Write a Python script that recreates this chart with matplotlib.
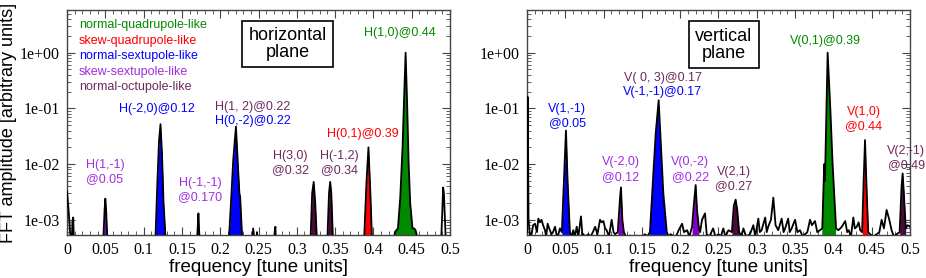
import matplotlib
matplotlib.use("Agg")
import matplotlib.pyplot as plt
import numpy as np
from matplotlib.ticker import FixedLocator, LogLocator, MultipleLocator, NullFormatter

# colours for the resonance families
GREEN = "#008a00"
RED = "#ff0000"
BLUE = "#0000ff"
PURPLE_TXT = "#a02ee0"
PURPLE = "#8000c8"
MAROON_TXT = "#6e2a5c"
MAROON = "#4c0a3c"

X_TICKS = [0, 0.05, 0.1, 0.15, 0.2, 0.25, 0.3, 0.35, 0.4, 0.45, 0.5]
X_TICK_LABELS = ["0", "0.05", "0.1", "0.15", "0.2", "0.25", "0.3", "0.35", "0.4", "0.45", "0.5"]
Y_TICKS = [1e-3, 1e-2, 1e-1, 1e0]
Y_TICK_LABELS = ["1e-03", "1e-02", "1e-01", "1e+00"]
Y_LIM = (5.33e-4, 5.84)

# horizontal plane spectrum (frequency, amplitude)
h_freq = [0.000, 0.002, 0.004, 0.006, 0.007, 0.008, 0.009, 0.011,
          0.046, 0.0475, 0.049, 0.050, 0.051, 0.0525, 0.054,
          0.113, 0.1155, 0.118, 0.120, 0.122, 0.124, 0.126, 0.1285, 0.131,
          0.168, 0.170, 0.1715, 0.1725, 0.174,
          0.209, 0.2115, 0.214, 0.217, 0.2205, 0.223, 0.225, 0.226, 0.2285, 0.231,
          0.241, 0.243, 0.245, 0.247, 0.248, 0.249,
          0.270, 0.271, 0.272, 0.273,
          0.316, 0.318, 0.320, 0.322, 0.324, 0.326,
          0.338, 0.340, 0.342, 0.3435, 0.345, 0.347,
          0.386, 0.388, 0.391, 0.3935, 0.396, 0.398, 0.400,
          0.426, 0.428, 0.430, 0.432, 0.435, 0.438, 0.440, 0.442, 0.444, 0.446,
          0.448, 0.451, 0.453, 0.455, 0.457, 0.459,
          0.488, 0.4895, 0.491, 0.492, 0.494, 0.495, 0.500]
h_amp = [3.2e-3, 1.5e-3, 6e-4, 3e-4, 9e-4, 1.1e-3, 4e-4, 3e-4,
         3e-4, 5e-4, 1.5e-3, 2.4e-3, 1.5e-3, 5e-4, 3e-4,
         3e-4, 5e-4, 5e-3, 2.5e-2, 5.2e-2, 1.5e-2, 2e-3, 5e-4, 3e-4,
         3e-4, 5e-4, 1.3e-3, 6e-4, 3e-4,
         3e-4, 5e-4, 2e-3, 1.2e-2, 4.7e-2, 1e-2, 3e-3, 2.6e-3, 5e-4, 3e-4,
         3e-4, 7e-4, 4e-4, 3e-4, 6e-4, 3e-4,
         3e-4, 6e-4, 7.5e-4, 3e-4,
         3e-4, 5e-4, 3e-3, 4.8e-3, 2e-3, 5e-4,
         3e-4, 5e-4, 3e-3, 4.8e-3, 3e-3, 5e-4,
         3e-4, 5e-4, 5e-3, 2e-2, 3e-3, 5e-4, 3e-4,
         3e-4, 6e-4, 6.5e-4, 7e-4, 2.5e-3, 2e-2, 1.5e-1, 1.0, 1.2e-1, 1e-2,
         2e-3, 7e-4, 7e-4, 6.5e-4, 5e-4, 3e-4,
         3e-4, 1e-3, 3.8e-3, 3e-3, 6e-4, 3e-4, 3e-4]

# vertical plane spectrum (frequency, amplitude)
v_freq = [0.000, 0.001, 0.002, 0.004, 0.006, 0.008, 0.0105, 0.013, 0.0148, 0.017,
          0.019, 0.021, 0.0235, 0.025, 0.027, 0.029, 0.032, 0.034, 0.0366, 0.039,
          0.041, 0.043, 0.0455, 0.048, 0.0509, 0.053, 0.056, 0.058, 0.0605, 0.0625,
          0.0649, 0.067, 0.0705, 0.0725, 0.0735, 0.076, 0.080, 0.083, 0.086, 0.089,
          0.092, 0.0953, 0.0975, 0.0997, 0.102, 0.104, 0.107, 0.1105, 0.113, 0.115,
          0.1185, 0.1215, 0.1227, 0.1245, 0.1265, 0.129, 0.1345, 0.139, 0.143, 0.148,
          0.154, 0.157, 0.1605, 0.164, 0.168, 0.1719, 0.175, 0.178, 0.1825, 0.185,
          0.1876, 0.192, 0.195, 0.198, 0.2025, 0.205, 0.209, 0.212, 0.2155, 0.218,
          0.2202, 0.222, 0.2245, 0.226, 0.2285, 0.2324, 0.2346, 0.238, 0.243, 0.246,
          0.250, 0.253, 0.2563, 0.259, 0.263, 0.2675, 0.270, 0.2724, 0.2745, 0.277,
          0.280, 0.2825, 0.286, 0.2911, 0.2955, 0.298, 0.302, 0.304, 0.3063, 0.311,
          0.313, 0.315, 0.3185, 0.3216, 0.3245, 0.328, 0.3325, 0.335, 0.337, 0.341,
          0.343, 0.3455, 0.350, 0.353, 0.3564, 0.360, 0.363, 0.366, 0.3695, 0.372,
          0.376, 0.379, 0.3825, 0.3855, 0.388, 0.389, 0.3925, 0.396, 0.399, 0.4035,
          0.4065, 0.409, 0.411, 0.4155, 0.418, 0.420, 0.423, 0.426, 0.428, 0.4305,
          0.433, 0.435, 0.4375, 0.4395, 0.4413, 0.443, 0.4455, 0.448, 0.452, 0.4565,
          0.460, 0.463, 0.466, 0.4695, 0.473, 0.476, 0.479, 0.4825, 0.4865, 0.489,
          0.4904, 0.492, 0.4945, 0.497, 0.500]
v_amp = [6e-4, 1.6e-1, 1e-3, 5e-4, 5.5e-4, 8e-4, 8.5e-4, 6e-4, 1.05e-3, 9e-4,
         1e-3, 8e-4, 6.5e-4, 5e-4, 8.5e-4, 7e-4, 5.5e-4, 6e-4, 7.5e-4, 5e-4,
         5.5e-4, 7e-4, 6e-4, 4e-3, 4e-2, 5e-3, 6e-4, 5e-4, 6.5e-4, 5e-4,
         7.5e-4, 5e-4, 1.15e-3, 5e-4, 5.5e-4, 5e-4, 5.5e-4, 5e-4, 6e-4, 7.5e-4,
         5.5e-4, 1e-3, 9e-4, 9.5e-4, 7e-4, 6.5e-4, 5e-4, 1e-3, 6e-4, 5.5e-4,
         6e-4, 2.5e-3, 3.8e-3, 1e-3, 6e-4, 5e-4, 5.2e-4, 4.5e-4, 5.2e-4, 4.5e-4,
         5.5e-4, 5e-4, 6e-4, 4e-3, 3.5e-2, 1.4e-1, 2e-2, 3e-3, 6e-4, 5e-4,
         5.5e-4, 5e-4, 5.2e-4, 6.5e-4, 8.5e-4, 6e-4, 6.5e-4, 5e-4, 7.5e-4, 2e-3,
         4.2e-3, 1.5e-3, 7e-4, 6e-4, 1e-3, 1.3e-3, 5.5e-4, 5e-4, 7e-4, 5e-4,
         5.5e-4, 5e-4, 7e-4, 5e-4, 6.5e-4, 6e-4, 1.8e-3, 2.3e-3, 1.5e-3, 6e-4,
         5e-4, 7e-4, 5e-4, 5.5e-4, 8e-4, 5e-4, 1.05e-3, 6e-4, 6.5e-4, 1.1e-3,
         6e-4, 7.6e-4, 1e-3, 2.5e-3, 8e-4, 6.5e-4, 1.05e-3, 6e-4, 7e-4, 1.05e-3,
         6e-4, 7e-4, 1e-3, 6e-4, 6.5e-4, 5e-4, 5.5e-4, 6e-4, 1e-3, 8e-4,
         9.5e-4, 6e-4, 6.5e-4, 7e-4, 1e-2, 5e-3, 1.0, 1e-1, 1e-2, 7e-4,
         6.5e-4, 7e-4, 7.5e-4, 9.5e-4, 6e-4, 6.5e-4, 5e-4, 1.1e-3, 7e-4, 7.5e-4,
         9e-4, 6.5e-4, 6e-4, 5e-3, 2.7e-2, 5e-3, 6e-4, 5.5e-4, 5e-4, 5.5e-4,
         6e-4, 1e-3, 7e-4, 1.5e-3, 1e-3, 6.5e-4, 5e-4, 5.5e-4, 6e-4, 4e-3,
         6.8e-3, 3e-3, 7e-4, 8e-4, 7.5e-4]

# coloured peaks: (f_min, f_max, colour)
h_peaks = [(0.045, 0.055, PURPLE), (0.112, 0.132, BLUE), (0.168, 0.175, PURPLE),
           (0.208, 0.232, BLUE), (0.315, 0.327, MAROON), (0.337, 0.348, MAROON),
           (0.385, 0.401, RED), (0.425, 0.460, GREEN)]
v_peaks = [(0.045, 0.057, BLUE), (0.118, 0.127, PURPLE), (0.160, 0.183, BLUE),
           (0.215, 0.2245, PURPLE), (0.267, 0.278, MAROON), (0.385, 0.404, GREEN),
           (0.437, 0.446, RED), (0.486, 0.495, MAROON)]

# legend-like family names (top left of horizontal plane)
families = ["normal-quadrupole-like", "skew-quadrupole-like", "normal-sextupole-like",
            "skew-sextupole-like", "normal-octupole-like"]
family_colors = [GREEN, RED, BLUE, PURPLE_TXT, MAROON_TXT]

# peak labels: (text, x, y, colour) in axes fractions
h_labels = [
    ("H(1,0)@0.44", 0.869, 0.896, GREEN),
    ("H(-2,0)@0.12", 0.234, 0.559, BLUE),
    ("H(1, 2)@0.22", 0.484, 0.568, MAROON_TXT),
    ("H(0,-2)@0.22", 0.484, 0.508, BLUE),
    ("H(0,1)@0.39", 0.772, 0.449, RED),
    ("H(3,0)\n@0.32", 0.584, 0.318, MAROON_TXT),
    ("H(-1,2)\n@0.34", 0.711, 0.318, MAROON_TXT),
    ("H(1,-1)\n@0.05", 0.099, 0.280, PURPLE_TXT),
    ("H(-1,-1)\n@0.170", 0.347, 0.198, PURPLE_TXT),
]
v_labels = [
    ("V(0,1)@0.39", 0.778, 0.864, GREEN),
    ("V( 0, 3)@0.17", 0.354, 0.696, MAROON_TXT),
    ("V(-1,-1)@0.17", 0.354, 0.637, BLUE),
    ("V(1,-1)\n@0.05", 0.105, 0.530, BLUE),
    ("V(1,0)\n@0.44", 0.880, 0.514, RED),
    ("V(2,-1)\n@0.49", 0.990, 0.342, MAROON_TXT),
    ("V(-2,0)\n@0.12", 0.245, 0.291, PURPLE_TXT),
    ("V(0,-2)\n@0.22", 0.426, 0.291, PURPLE_TXT),
    ("V(2,1)\n@0.27", 0.540, 0.248, MAROON_TXT),
]

SANS = "Liberation Sans"
SERIF = "Liberation Serif"


def draw_spectrum(ax, freq, amp, peaks):
    freq = np.asarray(freq)
    amp = np.asarray(amp)
    floor = np.full_like(amp, 1e-6)
    for lo, hi, color in peaks:
        mask = (freq >= lo) & (freq <= hi)
        ax.fill_between(freq, floor, amp, where=mask, color=color, linewidth=0, zorder=2)
    ax.plot(freq, amp, color="black", linewidth=1.3, zorder=3)


def style_axes(ax):
    ax.set_yscale("log")
    ax.set_xlim(0, 0.5)
    ax.set_ylim(*Y_LIM)
    ax.xaxis.set_major_locator(FixedLocator(X_TICKS))
    ax.set_xticklabels(X_TICK_LABELS, fontfamily=SERIF)
    ax.xaxis.set_minor_locator(MultipleLocator(0.01))
    ax.yaxis.set_major_locator(FixedLocator(Y_TICKS))
    ax.set_yticklabels(Y_TICK_LABELS, fontfamily=SERIF)
    ax.yaxis.set_minor_locator(LogLocator(base=10, subs=np.arange(2, 10)))
    ax.yaxis.set_minor_formatter(NullFormatter())
    ax.tick_params(which="both", direction="in", top=True, right=True,
                   labelsize=11.5, pad=5, color="#444444", labelfontfamily=SERIF)
    ax.tick_params(which="major", length=6, width=0.8)
    ax.tick_params(which="minor", length=3, width=0.6)
    for spine in ax.spines.values():
        spine.set_linewidth(1.0)
        spine.set_color("#444444")
    ax.set_xlabel("frequency [tune units]", fontsize=13.5, family=SANS, labelpad=1)


def add_labels(ax, labels):
    for text, x, y, color in labels:
        ax.text(x, y, text, transform=ax.transAxes, color=color, fontsize=9,
                family=SANS, ha="center", va="center", linespacing=1.25, zorder=4,
                clip_on=False)


def add_plane_box(ax, text, x, y):
    ax.text(x, y, text, transform=ax.transAxes, fontsize=13, family=SANS,
            ha="center", va="center", linespacing=1.0, zorder=5,
            bbox=dict(boxstyle="square,pad=0.35", facecolor="white",
                      edgecolor="black", linewidth=1.2))


def main() -> None:
    fig = plt.figure(figsize=(9.26, 2.78), dpi=100)
    ax_h = fig.add_axes([0.0724, 0.1547, 0.4136, 0.8093])
    ax_v = fig.add_axes([0.5691, 0.1547, 0.4136, 0.8093])

    draw_spectrum(ax_h, h_freq, h_amp, h_peaks)
    draw_spectrum(ax_v, v_freq, v_amp, v_peaks)
    style_axes(ax_h)
    style_axes(ax_v)
    ax_h.set_ylabel("FFT amplitude [arbitrary units]", fontsize=13, family=SANS, labelpad=2)

    for i, (name, color) in enumerate(zip(families, family_colors)):
        ax_h.text(0.031, 0.933 - i * 0.0693, name, transform=ax_h.transAxes,
                  color=color, fontsize=9, family=SANS, ha="left", va="center")

    add_labels(ax_h, h_labels)
    add_labels(ax_v, v_labels)
    add_plane_box(ax_h, "horizontal\nplane", 0.576, 0.849)
    add_plane_box(ax_v, "vertical\nplane", 0.514, 0.846)

    fig.savefig("out.png", dpi=100)
    plt.close(fig)


if __name__ == "__main__":
    main()
